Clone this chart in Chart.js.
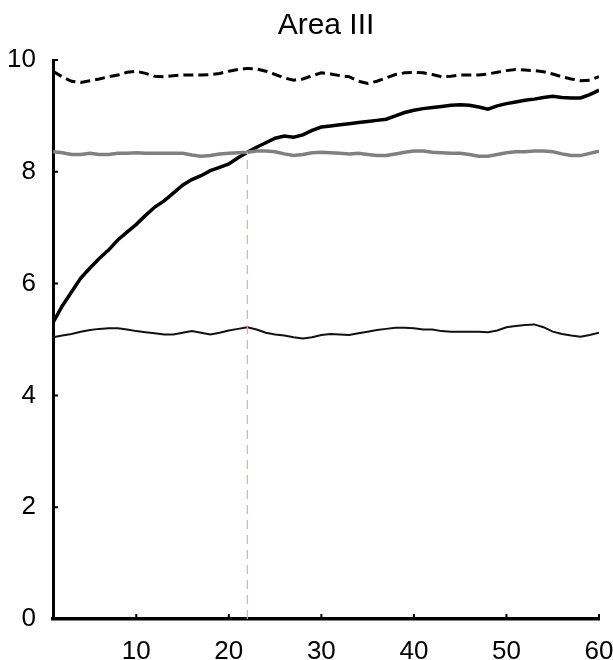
<!DOCTYPE html>
<html lang="en">
<head>
  <meta charset="UTF-8">
  <script src="https://cdn.jsdelivr.net/npm/chart.js"></script>
  <title>Area III</title>
  <style>
    body { margin: 0; background: #fff; }
  </style>
</head>
<body>
  <canvas id="chart" width="613" height="660"></canvas>
  <script>
    const xs = []
    for (let i = 1; i <= 60; i++) xs.push(i)

    const rising = [5.30, 5.60, 5.85, 6.10, 6.28, 6.45, 6.60, 6.78, 6.92, 7.06,
      7.22, 7.37, 7.48, 7.62, 7.76, 7.86, 7.93, 8.02, 8.08, 8.14,
      8.25, 8.35, 8.44, 8.52, 8.60, 8.64, 8.62, 8.66, 8.74, 8.80,
      8.82, 8.84, 8.86, 8.88, 8.90, 8.92, 8.94, 9.00, 9.06, 9.10,
      9.13, 9.15, 9.17, 9.19, 9.20, 9.19, 9.16, 9.12, 9.18, 9.22,
      9.25, 9.28, 9.30, 9.33, 9.35, 9.33, 9.32, 9.32, 9.38, 9.46]

    const upper = [9.80, 9.70, 9.62, 9.60, 9.63, 9.66, 9.70, 9.73, 9.78, 9.80,
      9.76, 9.71, 9.70, 9.72, 9.73, 9.73, 9.73, 9.74, 9.76, 9.80,
      9.83, 9.85, 9.84, 9.80, 9.74, 9.68, 9.64, 9.66, 9.72, 9.77,
      9.75, 9.72, 9.70, 9.62, 9.58, 9.62, 9.68, 9.74, 9.77, 9.78,
      9.77, 9.74, 9.70, 9.71, 9.73, 9.73, 9.73, 9.75, 9.78, 9.81,
      9.83, 9.82, 9.81, 9.79, 9.75, 9.70, 9.66, 9.63, 9.64, 9.70]

    const middle = [8.36, 8.34, 8.31, 8.31, 8.33, 8.31, 8.31, 8.33, 8.33, 8.34,
      8.33, 8.33, 8.33, 8.33, 8.33, 8.30, 8.28, 8.29, 8.32, 8.33,
      8.34, 8.35, 8.37, 8.37, 8.36, 8.32, 8.29, 8.31, 8.34, 8.35,
      8.34, 8.33, 8.32, 8.33, 8.31, 8.29, 8.29, 8.32, 8.35, 8.37,
      8.37, 8.35, 8.34, 8.33, 8.33, 8.31, 8.28, 8.28, 8.31, 8.34,
      8.36, 8.36, 8.37, 8.37, 8.36, 8.32, 8.29, 8.29, 8.33, 8.37]

    const lower = [5.04, 5.07, 5.10, 5.14, 5.17, 5.19, 5.20, 5.20, 5.18, 5.15,
      5.13, 5.11, 5.09, 5.09, 5.12, 5.15, 5.12, 5.09, 5.12, 5.16,
      5.19, 5.22, 5.18, 5.12, 5.09, 5.07, 5.04, 5.02, 5.04, 5.08,
      5.10, 5.09, 5.08, 5.11, 5.14, 5.17, 5.19, 5.21, 5.21, 5.20,
      5.18, 5.18, 5.15, 5.14, 5.14, 5.14, 5.14, 5.13, 5.16, 5.22,
      5.24, 5.26, 5.27, 5.22, 5.14, 5.10, 5.07, 5.05, 5.08, 5.12]

    const markerX = 22
    const markerTop = 8.35
    const xTicks = [10, 20, 30, 40, 50, 60]
    const yTicks = [0, 2, 4, 6, 8, 10]

    const pts = arr => arr.map((v, i) => ({ x: xs[i], y: v }))

    // small inward tick marks like the original figure
    const inwardTicks = {
      id: 'inwardTicks',
      afterDatasetsDraw(chart) {
        const { ctx, scales: { x, y } } = chart
        ctx.save()
        ctx.strokeStyle = '#000'
        ctx.lineWidth = 2
        ctx.beginPath()
        xTicks.forEach(t => {
          const px = x.getPixelForValue(t)
          ctx.moveTo(px, y.bottom)
          ctx.lineTo(px, y.bottom - 5)
        })
        yTicks.forEach(t => {
          const py = y.getPixelForValue(t)
          ctx.moveTo(x.left, py)
          ctx.lineTo(x.left + 5, py)
        })
        ctx.stroke()
        ctx.restore()
      }
    }

    Chart.defaults.font.family = '"Liberation Sans", Arial, sans-serif'
    Chart.defaults.color = '#000'

    new Chart(document.getElementById('chart'), {
      type: 'line',
      data: {
        datasets: [{
          data: [{ x: markerX, y: 0 }, { x: markerX, y: markerTop }],
          borderColor: '#ff9f9f',
          borderWidth: 1.2,
          borderDash: [9, 6]
        }, {
          data: pts(lower),
          borderColor: '#111',
          borderWidth: 2
        }, {
          data: pts(middle),
          borderColor: '#808080',
          borderWidth: 3.5
        }, {
          data: pts(upper),
          borderColor: '#000',
          borderWidth: 3,
          borderDash: [10, 5]
        }, {
          data: pts(rising),
          borderColor: '#000',
          borderWidth: 3.5
        }]
      },
      options: {
        responsive: false,
        animation: false,
        elements: { point: { radius: 0 }, line: { tension: 0 } },
        layout: { padding: 0 },
        plugins: {
          legend: { display: false },
          tooltip: { enabled: false },
          title: {
            display: true,
            fullSize: false,
            text: 'Area III',
            font: { size: 30, weight: 'normal' },
            padding: { top: 8, bottom: 16 }
          }
        },
        scales: {
          x: {
            type: 'linear',
            min: 1,
            max: 60,
            grid: { display: false },
            border: { display: true, color: '#000', width: 3.5 },
            afterBuildTicks: s => { s.ticks = xTicks.map(v => ({ value: v })) },
            afterFit: s => { s.height = 41; s.paddingRight = 14; s.paddingLeft = 0 },
            ticks: { font: { size: 26 }, padding: 9, maxRotation: 0 }
          },
          y: {
            min: 0,
            max: 10,
            grid: { display: false },
            border: { display: true, color: '#000', width: 3 },
            afterBuildTicks: s => { s.ticks = yTicks.map(v => ({ value: v })) },
            afterFit: s => { s.width = 53 },
            ticks: { font: { size: 26 }, padding: 9 }
          }
        }
      },
      plugins: [inwardTicks]
    })
  </script>
</body>
</html>
